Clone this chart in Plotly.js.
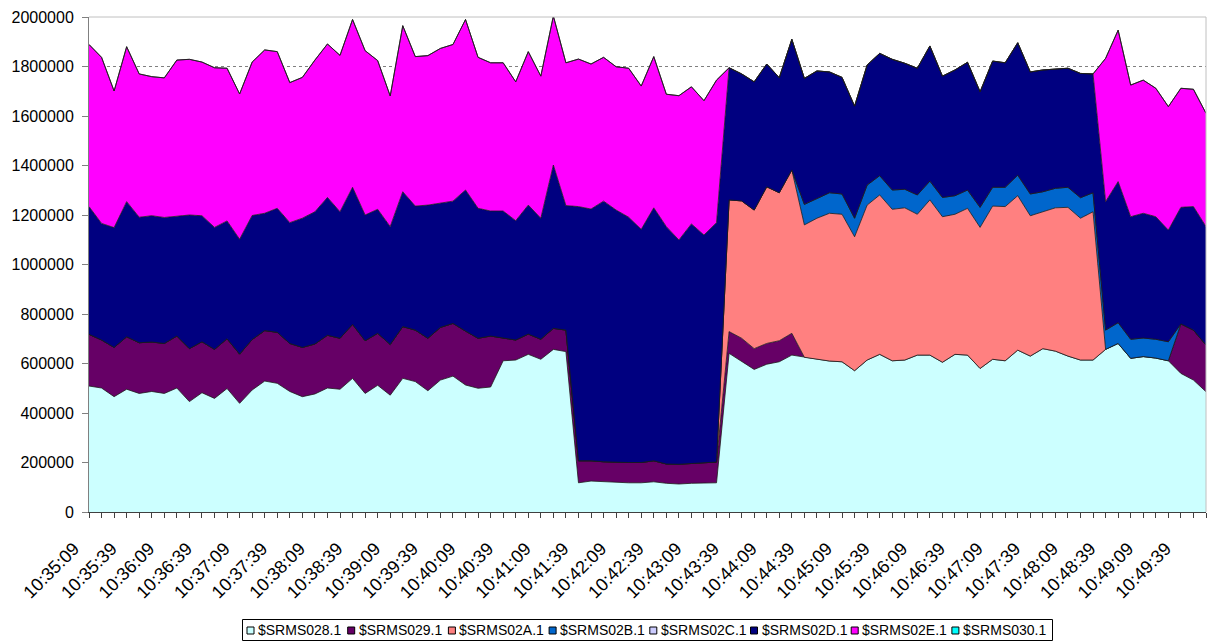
<!DOCTYPE html>
<html>
<head>
<meta charset="utf-8">
<script src="https://cdn.plot.ly/plotly-3.0.1.min.js"></script>
<style>
html,body{margin:0;padding:0;background:#fff;}
#chart{width:1208px;height:642px;}
</style>
</head>
<body>
<div id="chart"></div>
<script>
// ---- categories (sample times, 10 s apart) ----
const times = [
"10:35:09","10:35:19","10:35:29","10:35:39","10:35:49","10:35:59",
"10:36:09","10:36:19","10:36:29","10:36:39","10:36:49","10:36:59",
"10:37:09","10:37:19","10:37:29","10:37:39","10:37:49","10:37:59",
"10:38:09","10:38:19","10:38:29","10:38:39","10:38:49","10:38:59",
"10:39:09","10:39:19","10:39:29","10:39:39","10:39:49","10:39:59",
"10:40:09","10:40:19","10:40:29","10:40:39","10:40:49","10:40:59",
"10:41:09","10:41:19","10:41:29","10:41:39","10:41:49","10:41:59",
"10:42:09","10:42:19","10:42:29","10:42:39","10:42:49","10:42:59",
"10:43:09","10:43:19","10:43:29","10:43:39","10:43:49","10:43:59",
"10:44:09","10:44:19","10:44:29","10:44:39","10:44:49","10:44:59",
"10:45:09","10:45:19","10:45:29","10:45:39","10:45:49","10:45:59",
"10:46:09","10:46:19","10:46:29","10:46:39","10:46:49","10:46:59",
"10:47:09","10:47:19","10:47:29","10:47:39","10:47:49","10:47:59",
"10:48:09","10:48:19","10:48:29","10:48:39","10:48:49","10:48:59",
"10:49:09","10:49:19","10:49:29","10:49:39","10:49:49","10:49:59"
];

// ---- x tick labels shown ----
const tickLabels = [
"10:35:09","10:35:39","10:36:09","10:36:39","10:37:09","10:37:39",
"10:38:09","10:38:39","10:39:09","10:39:39","10:40:09","10:40:39",
"10:41:09","10:41:39","10:42:09","10:42:39","10:43:09","10:43:39",
"10:44:09","10:44:39","10:45:09","10:45:39","10:46:09","10:46:39",
"10:47:09","10:47:39","10:48:09","10:48:39","10:49:09","10:49:39"
];

// ---- y ticks ----
const yTicks = [0,200000,400000,600000,800000,1000000,1200000,1400000,1600000,1800000,2000000];

// ---- series names & colours ----
const seriesNames = ["$SRMS028.1","$SRMS029.1","$SRMS02A.1","$SRMS02B.1","$SRMS02C.1","$SRMS02D.1","$SRMS02E.1","$SRMS030.1"];
const seriesColors = ["#CCFFFF","#660066","#FF8080","#0066CC","#CCCCFF","#000080","#FF00FF","#00FFFF"];

// ---- series values ----
const s028 = [
509000,501000,466000,496000,479000,487000,479000,501000,446000,482000,
459000,499000,439000,493000,529000,520000,487000,466000,477000,501000,
496000,540000,479000,512000,472000,540000,527000,490000,533000,549000,
513000,500000,505000,611000,614000,637000,617000,657000,648000,118000,
125000,122000,118000,118000,118000,122000,116000,113000,116000,118000,
118000,641000,607000,576000,597000,607000,634000,625000,617000,610000,
607000,571000,614000,637000,611000,614000,634000,634000,605000,637000,
634000,580000,617000,611000,654000,630000,660000,650000,630000,614000,
614000,657000,681000,621000,628000,622000,611000,560000,533000,486000];

const s029 = [
209000,194000,199000,212000,205000,200000,202000,210000,214000,206000,
198000,201000,199000,204000,204000,206000,194000,199000,202000,213000,
206000,218000,213000,210000,205000,209000,208000,212000,213000,213000,
218000,202000,206000,91000,81000,82000,81000,85000,87000,89000,
82000,81000,82000,82000,82000,85000,78000,80000,80000,81000,
84000,88000,95000,84000,84000,85000,88000,0,0,0,
0,0,0,0,0,0,0,0,0,0,
0,0,0,0,0,0,0,0,0,0,
0,0,0,0,0,0,0,200000,202000,189000];

const s02A = [
0,0,0,0,0,0,0,0,0,0,
0,0,0,0,0,0,0,0,0,0,
0,0,0,0,0,0,0,0,0,0,
0,0,0,0,0,0,0,0,0,0,
0,0,0,0,0,0,0,0,0,0,
0,532000,555000,560000,633000,598000,660000,535000,570000,597000,
596000,541000,626000,644000,612000,615000,569000,627000,588000,566000,
593000,570000,619000,623000,624000,567000,553000,579000,601000,573000,
599000,0,0,0,0,0,0,0,0,0];

const s02B = [
0,0,0,0,0,0,0,0,0,0,
0,0,0,0,0,0,0,0,0,0,
0,0,0,0,0,0,0,0,0,0,
0,0,0,0,0,0,0,0,0,0,
0,0,0,0,0,0,0,0,0,0,
0,0,0,0,0,0,0,83000,80000,83000,
82000,75000,81000,78000,78000,75000,78000,76000,78000,75000,
74000,81000,76000,78000,83000,88000,81000,79000,81000,83000,
77000,78000,84000,77000,75000,76000,77000,0,0,0];

const s02C = [
0,0,0,0,0,0,0,0,0,0,
0,0,0,0,0,0,0,0,0,0,
0,0,0,0,0,0,0,0,0,0,
0,0,0,0,0,0,0,0,0,0,
0,0,0,0,0,0,0,0,0,0,
0,0,0,0,0,0,0,0,0,0,
0,0,0,0,0,0,0,0,0,0,
0,0,0,0,0,0,0,0,0,0,
0,0,0,0,0,0,0,0,0,0];

const s02D = [
516000,471000,484000,546000,507000,510000,509000,484000,540000,509000,
493000,476000,464000,501000,474000,501000,488000,522000,534000,557000,
511000,554000,508000,501000,476000,545000,501000,538000,501000,494000,
570000,525000,505000,514000,482000,521000,489000,660000,503000,1027000,
1017000,1053000,1020000,991000,942000,1022000,959000,906000,968000,920000,
967000,534000,513000,518000,496000,465000,528000,509000,515000,488000,
471000,453000,485000,494000,528000,509000,512000,546000,490000,508000,
516000,467000,510000,503000,535000,493000,492000,482000,481000,502000,
480000,519000,570000,495000,504000,495000,451000,471000,499000,478000];

const s02E = [
655000,671000,552000,626000,579000,562000,564000,631000,629000,621000,
645000,617000,587000,620000,660000,633000,566000,569000,613000,620000,
632000,678000,664000,601000,528000,671000,604000,604000,626000,633000,
689000,610000,599000,599000,561000,620000,574000,602000,577000,596000,
586000,581000,579000,602000,579000,611000,535000,583000,554000,543000,
576000,0,0,0,0,0,0,0,0,0,
0,0,0,0,0,0,0,0,0,0,
0,0,0,0,0,0,0,0,0,0,
0,579000,612000,532000,538000,519000,499000,481000,474000,458000];

const s030 = [
0,0,0,0,0,0,0,0,0,0,
0,0,0,0,0,0,0,0,0,0,
0,0,0,0,0,0,0,0,0,0,
0,0,0,0,0,0,0,0,0,0,
0,0,0,0,0,0,0,0,0,0,
0,0,0,0,0,0,0,0,0,0,
0,0,0,0,0,0,0,0,0,0,
0,0,0,0,0,0,0,0,0,0,
0,0,0,0,0,0,0,0,0,0];

const seriesValues = [s028,s029,s02A,s02B,s02C,s02D,s02E,s030];

// ---- traces ----
const traces = seriesValues.map((vals, k) => ({
  type: "scatter",
  mode: "lines",
  x: times,
  y: vals,
  name: seriesNames[k],
  stackgroup: "one",
  fillcolor: seriesColors[k],
  line: {color: "#1a1a1a", width: 0.8},
  showlegend: false,
  hoverinfo: "x+y+name"
}));

// ---- geometry for the hand-drawn legend ----
const M = {l: 89, r: 2, t: 17, b: 130};
const W = 1208, H = 642;
const plotW = W - M.l - M.r, plotH = H - M.t - M.b;
const px2x = px => (px - M.l) / plotW;
const py2y = py => (H - M.b - py) / plotH;

const shapes = [
  // plot-area border (top and right)
  {type: "line", xref: "paper", yref: "paper", x0: 0, x1: 1, y0: 1, y1: 1, line: {color: "#c0c0c0", width: 1}, layer: "above"},
  {type: "line", xref: "paper", yref: "paper", x0: 1, x1: 1, y0: 0, y1: 1, line: {color: "#c0c0c0", width: 1}, layer: "above"},
  // legend box
  {type: "rect", xref: "paper", yref: "paper", x0: px2x(242.5), x1: px2x(1052.5), y0: py2y(640.5), y1: py2y(619.5),
   line: {color: "#000", width: 1}, fillcolor: "#fff"}
];
const annotations = [];
seriesNames.forEach((nm, k) => {
  const sx = 247 + 100.7 * k;
  shapes.push({type: "rect", xref: "paper", yref: "paper",
    x0: px2x(sx), x1: px2x(sx + 7), y0: py2y(634), y1: py2y(627),
    line: {color: "#000", width: 1}, fillcolor: seriesColors[k]});
  annotations.push({xref: "paper", yref: "paper", x: px2x(sx + 9), y: py2y(630.5),
    xanchor: "left", yanchor: "middle", showarrow: false, text: nm,
    font: {family: "Arial, Liberation Sans, sans-serif", size: 14, color: "#000"}});
});

const layout = {
  width: W, height: H,
  margin: M,
  paper_bgcolor: "#fff",
  plot_bgcolor: "#fff",
  showlegend: false,
  xaxis: {
    type: "category",
    range: [0, times.length - 1],
    tickmode: "array",
    tickvals: times,
    ticktext: times.map(t => tickLabels.includes(t) ? t : ""),
    tickangle: -45,
    ticks: "outside", ticklen: 5, tickcolor: "#404040", tickwidth: 1,
    ticklabelstandoff: 13,
    ticklabelshift: -15,
    showline: true, linecolor: "#404040", linewidth: 1,
    showgrid: false, zeroline: false,
    tickfont: {family: "Arial, Liberation Sans, sans-serif", size: 18, color: "#000"}
  },
  yaxis: {
    range: [0, 2000000],
    tickmode: "array",
    tickvals: yTicks,
    ticktext: yTicks.map(v => String(v)),
    ticks: "outside", ticklen: 6, tickcolor: "#808080",
    ticklabelstandoff: 5,
    showline: true, linecolor: "#808080", linewidth: 1,
    showgrid: true, gridcolor: "#808080", griddash: "dot", gridwidth: 1,
    zeroline: false,
    tickfont: {family: "Arial, Liberation Sans, sans-serif", size: 16, color: "#000"}
  },
  shapes: shapes,
  annotations: annotations
};

Plotly.newPlot("chart", traces, layout, {displayModeBar: false, staticPlot: true});
</script>
</body>
</html>
